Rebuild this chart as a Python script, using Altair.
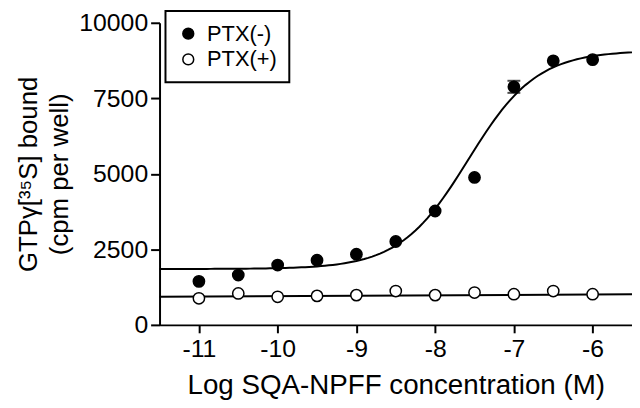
import altair as alt
import pandas as pd

# Measured data (Log concentration, cpm per well)
log_conc = [-11, -10.5, -10, -9.5, -9, -8.5, -8, -7.5, -7, -6.5, -6]
ptx_minus = [1440, 1650, 1980, 2140, 2340, 2760, 3770, 4880, 7880, 8740, 8780]
ptx_plus = [880, 1040, 930, 960, 985, 1120, 985, 1070, 1015, 1120, 1015]
series_names = ["PTX(-)", "PTX(+)"]

# error bar (only visible one)
err_x = [-7]
err_lo = [7680]
err_hi = [8080]

# Sigmoid fit parameters for PTX(-)
fit_bottom = 1850
fit_top = 9080
fit_logec50 = -7.58
fit_hill = 1.0

# Linear fit endpoints for PTX(+)
flat_x = [-11.5, -5.5]
flat_y = [930, 1010]

x_domain = [-11.5, -5.5]
x_ticks = [-11, -10, -9, -8, -7, -6]
y_ticks = [0, 2500, 5000, 7500, 10000]

FONT = "Liberation Sans"

pts = pd.DataFrame({
    "x": log_conc * 2,
    "y": ptx_minus + ptx_plus,
    "series": [series_names[0]] * len(log_conc) + [series_names[1]] * len(log_conc),
})
err = pd.DataFrame({"x": err_x, "lo": err_lo, "hi": err_hi})
flat = pd.DataFrame({"x": flat_x, "y": flat_y})

xs = alt.X("x:Q", scale=alt.Scale(domain=x_domain, nice=False, zero=False),
           axis=alt.Axis(values=x_ticks, title="Log SQA-NPFF concentration (M)",
                         labelExpr="datum.value + ''"))
ys = alt.Y("y:Q", scale=alt.Scale(domain=[0, 10000], nice=False),
           axis=alt.Axis(values=y_ticks,
                         title=["GTP\u03b3[\u00b3\u2075S] bound", "(cpm per well)"],
                         labelExpr="datum.value + ''"))

curve = alt.Chart(alt.sequence(start=-11.5, stop=-5.49, step=0.05, as_="x")).transform_calculate(
    y=f"{fit_bottom} + ({fit_top} - {fit_bottom}) / (1 + pow(10, ({fit_logec50} - datum.x) * {fit_hill}))"
).mark_line(color="black", strokeWidth=2).encode(x=xs, y=ys)

flat_line = alt.Chart(flat).mark_line(color="black", strokeWidth=2).encode(x=xs, y=ys)

err_rule = alt.Chart(err).mark_rule(color="black", strokeWidth=2).encode(
    x=xs, y="lo:Q", y2="hi:Q")
cap_lo = alt.Chart(err).mark_tick(color="black", orient="horizontal", size=13, thickness=2).encode(
    x=xs, y="lo:Q")
cap_hi = alt.Chart(err).mark_tick(color="black", orient="horizontal", size=13, thickness=2).encode(
    x=xs, y="hi:Q")

points = alt.Chart(pts).mark_point(filled=True, size=130, stroke="black", strokeWidth=1.5,
                                   opacity=1).encode(
    x=xs, y=ys,
    fill=alt.Fill("series:N", scale=alt.Scale(domain=series_names, range=["black", "white"]),
                  legend=alt.Legend(title=None, orient="none", legendX=6, legendY=-12,
                                    labelFontSize=22, symbolSize=120, symbolStrokeColor="black",
                                    symbolStrokeWidth=1.5, strokeColor="black",
                                    padding=12, rowPadding=4, labelOffset=8,
                                    symbolType="circle", labelFont=FONT)),
)

chart = alt.layer(curve, flat_line, err_rule, cap_lo, cap_hi, points).properties(
    width=477, height=305,
    autosize=alt.AutoSizeParams(type="none"),
    padding={"left": 153, "top": 13, "right": 0, "bottom": 82},
).configure_view(stroke=None).configure_axis(
    domainColor="black", domainWidth=2, tickColor="black", tickWidth=2,
    labelColor="black", titleColor="black", grid=False,
    labelFont=FONT, titleFont=FONT, labelFontSize=25, titleFontWeight="normal",
).configure_axisX(
    titleFontSize=28, tickSize=8, labelPadding=4, titlePadding=10,
).configure_axisY(
    titleFontSize=26, titleLineHeight=32, tickSize=9, labelPadding=3, titlePadding=6,
).configure_legend(
    strokeWidth=2, fillColor="white",
)

chart.save("out.html", embed_options={"renderer": "svg", "actions": False})
